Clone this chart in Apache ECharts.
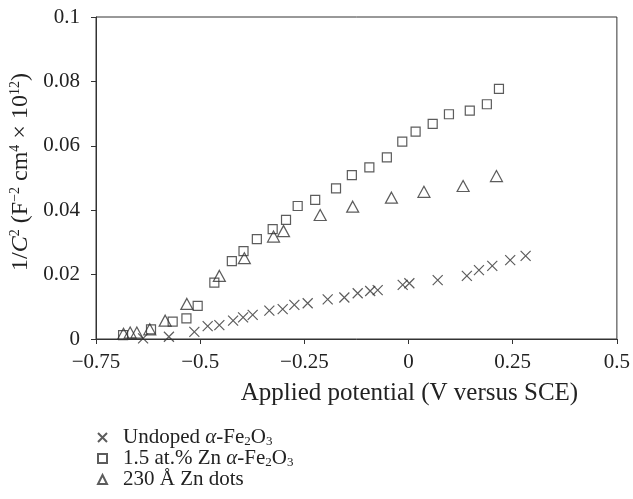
<!DOCTYPE html>
<html>
<head>
<meta charset="utf-8">
<script src="https://cdn.jsdelivr.net/npm/echarts@6/dist/echarts.min.js"></script>
<style>
	html, body { margin: 0; padding: 0; background: #fff; }
	#chart { width: 633px; height: 499px; }
</style>
</head>
<body>
<div id="chart"></div>
<script>
// 数据: 外加电位 (V vs SCE) 与 1/C^2
var undopedX = [-0.637, -0.575, -0.514, -0.482, -0.454, -0.421, -0.397, -0.374, -0.334, -0.302, -0.274, -0.242, -0.194, -0.154, -0.122, -0.092, -0.074, -0.014, 0.002, 0.070, 0.140, 0.169, 0.201, 0.244, 0.281];
var undopedY = [0.0002, 0.0007, 0.0022, 0.0040, 0.0043, 0.0057, 0.0067, 0.0075, 0.0088, 0.0093, 0.0106, 0.0111, 0.0123, 0.0129, 0.0142, 0.0149, 0.0152, 0.0168, 0.0173, 0.0183, 0.0196, 0.0214, 0.0227, 0.0245, 0.0258];
var znX = [-0.685, -0.618, -0.566, -0.533, -0.506, -0.466, -0.424, -0.396, -0.364, -0.326, -0.294, -0.266, -0.224, -0.174, -0.136, -0.094, -0.052, -0.015, 0.017, 0.058, 0.097, 0.147, 0.188, 0.217];
var znY = [0.0012, 0.0030, 0.0054, 0.0064, 0.0103, 0.0175, 0.0242, 0.0273, 0.0310, 0.0341, 0.0370, 0.0413, 0.0432, 0.0468, 0.0509, 0.0533, 0.0564, 0.0613, 0.0644, 0.0668, 0.0698, 0.0709, 0.0729, 0.0777];
var dotsX = [-0.684, -0.668, -0.652, -0.621, -0.584, -0.532, -0.454, -0.394, -0.324, -0.300, -0.212, -0.134, -0.041, 0.037, 0.131, 0.211];
var dotsY = [0.0016, 0.0020, 0.0020, 0.0030, 0.0057, 0.0109, 0.0196, 0.0251, 0.0318, 0.0335, 0.0385, 0.0411, 0.0439, 0.0457, 0.0475, 0.0506];
var seriesNames = ["Undoped", "1.5 at.% Zn", "230 Å Zn dots"];
var legendLabels = [
	"Undoped {i|α}-Fe{sub|2}O{sub|3}",
	"1.5 at.% Zn {i|α}-Fe{sub|2}O{sub|3}",
	"230 Å Zn dots"
];

var serif = "Liberation Serif";
var ink = "#333";
var txt = "#222";

function pairs(xs, ys) {
	var out = [];
	for (var i = 0; i < xs.length; i++) out.push([xs[i], ys[i]]);
	return out;
}

function makeSeries(name, data, symbol, size) {
	return {
		name: name,
		type: "scatter",
		data: data,
		symbol: symbol,
		symbolSize: size,
		itemStyle: { color: "rgba(0,0,0,0)", borderColor: ink, borderWidth: 1.2 },
		emphasis: { disabled: true }
	};
}

var myChart = echarts.init(document.getElementById("chart"));
myChart.setOption({
	animation: false,
	grid: { left: 96, right: 16, top: 17, bottom: 160, show: true, borderColor: ink, borderWidth: 1 },
	xAxis: {
		type: "value", min: -0.75, max: 0.5, interval: 0.25,
		name: "Applied potential (V versus SCE)",
		nameLocation: "middle", nameGap: 42,
		// 标题居中于 0 处
		nameTextStyle: { fontFamily: serif, fontSize: 25, color: txt, padding: [0, 0, 0, 106] },
		axisLine: { onZero: false, lineStyle: { color: ink } },
		axisTick: { length: 5, lineStyle: { color: ink } },
		axisLabel: {
			fontFamily: serif, fontSize: 21, color: txt, margin: 13,
			formatter: function(v) { return String(v).replace("-", "\u2212"); }
		},
		splitLine: { show: false }
	},
	yAxis: {
		type: "value", min: 0, max: 0.1, interval: 0.02,
		name: "1/{i|C}{sup|2} (F{sup|\u22122} cm{sup|4} \u00d7 10{sup|12})",
		nameLocation: "middle", nameGap: 61, nameRotate: 90,
		nameTextStyle: {
			fontFamily: serif, fontSize: 24, color: txt, padding: [0, 0, 0, 12],
			rich: {
				i: { fontFamily: serif, fontSize: 24, fontStyle: "italic", color: txt },
				sup: { fontFamily: serif, fontSize: 14, verticalAlign: "top", color: txt }
			}
		},
		axisLine: { show: true, onZero: false, lineStyle: { color: ink } },
		axisTick: { show: true, length: 5, lineStyle: { color: ink } },
		axisLabel: { fontFamily: serif, fontSize: 21, color: txt, margin: 16 },
		splitLine: { show: false }
	},
	legend: {
		orient: "vertical", left: 92, top: 422,
		itemWidth: 9, itemHeight: 9, itemGap: 0,
		data: seriesNames,
		formatter: function(name) { return legendLabels[seriesNames.indexOf(name)]; },
		textStyle: {
			fontFamily: serif, fontSize: 21, color: txt, lineHeight: 21, padding: [0, 0, 0, 11],
			rich: {
				i: { fontFamily: serif, fontSize: 21, fontStyle: "italic", color: txt },
				sub: { fontFamily: serif, fontSize: 13, verticalAlign: "bottom", color: txt }
			}
		}
	},
	series: [
		makeSeries(seriesNames[0], pairs(undopedX, undopedY), "path://M0,0L10,10M0,10L10,0", 10),
		makeSeries(seriesNames[1], pairs(znX, znY), "rect", 9),
		makeSeries(seriesNames[2], pairs(dotsX, dotsY), "triangle", [12, 11])
	]
});
</script>
</body>
</html>
